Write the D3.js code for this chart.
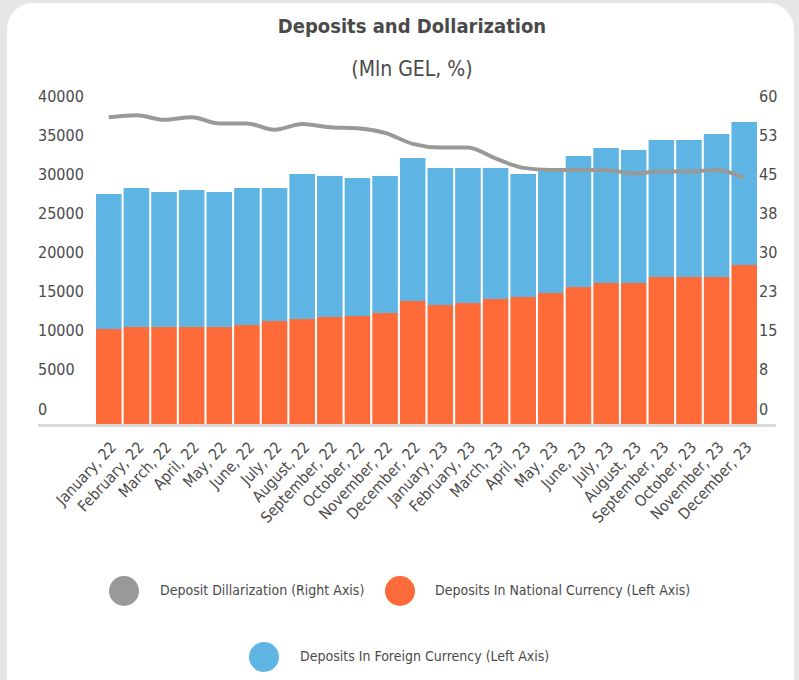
<!DOCTYPE html>
<html><head><meta charset="utf-8">
<script src="https://cdn.jsdelivr.net/npm/d3@7"></script>
<style>
html,body{margin:0;padding:0;background:#e6e6e6;}
svg{display:block;font-family:"DejaVu Sans Condensed","DejaVu Sans",sans-serif;font-stretch:condensed;}
</style></head>
<body>
<svg id="chart" width="799" height="680"></svg>
<script>
const months = ["January, 22","February, 22","March, 22","April, 22","May, 22","June, 22","July, 22","August, 22","September, 22","October, 22","November, 22","December, 22",
  "January, 23","February, 23","March, 23","April, 23","May, 23","June, 23","July, 23","August, 23","September, 23","October, 23","November, 23","December, 23"];
const nationalCurrency = [12140,12400,12400,12400,12400,12650,13160,13420,13680,13800,14190,15720,
  15210,15460,15980,16230,16740,17510,18020,18020,18790,18790,18790,20320];
const foreignCurrency = [17250,17760,17250,17510,17250,17510,17000,18530,18020,17640,17510,18270,
  17510,17250,16740,15720,15720,16740,17250,17000,17510,17510,18270,18280];
const dollarization = [58.8,59.2,58.3,58.8,57.6,57.6,56.4,57.5,56.9,56.7,55.8,53.7,
  53.0,53.0,50.9,49.1,48.7,48.7,48.7,48.0,48.4,48.4,48.7,47.2];
const leftTicks = [0,5000,10000,15000,20000,25000,30000,35000,40000];
const rightTickValues = [0,7.5,15,22.5,30,37.5,45,52.5,60];
const rightTickLabels = ["0","8","15","23","30","38","45","53","60"];
const legendItems = [
  {name:"Deposit Dillarization (Right Axis)", color:"#999999"},
  {name:"Deposits In National Currency (Left Axis)", color:"#ff6a39"},
  {name:"Deposits In Foreign Currency (Left Axis)", color:"#5eb5e3"}
];

const svg = d3.select("#chart");
const textColor = "#4a4a4a";

svg.append("rect").attr("x",7).attr("y",3).attr("width",787).attr("height",720)
  .attr("rx",26).attr("fill","#fff");

svg.append("text").attr("x",412).attr("y",27).attr("text-anchor","middle")
  .attr("dominant-baseline","middle").attr("font-size",20).attr("font-weight","bold")
  .attr("fill",textColor).text("Deposits and Dollarization");
svg.append("text").attr("x",412).attr("y",70).attr("text-anchor","middle")
  .attr("dominant-baseline","middle").attr("font-size",21)
  .attr("fill",textColor).text("(Mln GEL, %)");

const x = d3.scaleBand().domain(months).range([96,757]).paddingInner(0.075).paddingOuter(0);
const yL = d3.scaleLinear().domain([0,40000]).range([424,111]);
const yR = d3.scaleLinear().domain([0,60]).range([424,111]);

const data = months.map((m,i)=>({m, nat:nationalCurrency[i], fx:foreignCurrency[i], dol:dollarization[i]}));

const g = svg.append("g");
g.selectAll(".nat").data(data).join("rect")
  .attr("x",d=>x(d.m)).attr("width",x.bandwidth())
  .attr("y",d=>yL(d.nat)).attr("height",d=>yL(0)-yL(d.nat)).attr("fill","#ff6a39");
g.selectAll(".fx").data(data).join("rect")
  .attr("x",d=>x(d.m)).attr("width",x.bandwidth())
  .attr("y",d=>yL(d.nat+d.fx)).attr("height",d=>yL(d.nat)-yL(d.nat+d.fx)).attr("fill","#5eb5e3");

svg.append("line").attr("x1",38).attr("x2",776).attr("y1",425.5).attr("y2",425.5)
  .attr("stroke","#d9d9d9").attr("stroke-width",3);

const line = d3.line().x(d=>x(d.m)+x.bandwidth()/2).y(d=>yR(d.dol)).curve(d3.curveMonotoneX);
svg.append("path").datum(data).attr("d",line).attr("fill","none")
  .attr("stroke","#999999").attr("stroke-width",4).attr("stroke-linejoin","round");

svg.append("g").selectAll("text").data(leftTicks).join("text")
  .attr("x",38).attr("y",d=>yL(d)-14).attr("dominant-baseline","middle")
  .attr("font-size",16).attr("fill",textColor).text(d=>d);
svg.append("g").selectAll("text").data(rightTickValues).join("text")
  .attr("x",759).attr("y",d=>yR(d)-14).attr("dominant-baseline","middle")
  .attr("font-size",16).attr("fill",textColor).text((d,i)=>rightTickLabels[i]);

svg.append("g").selectAll("text").data(months).join("text")
  .attr("transform",d=>`translate(${x(d)+x.bandwidth()/2+5},${445}) rotate(-47)`)
  .attr("text-anchor","end").attr("dominant-baseline","middle")
  .attr("font-size",15.5).attr("fill",textColor).text(d=>d);

const legPos = [{cx:124,cy:591,tx:160},{cx:400,cy:591,tx:435},{cx:264,cy:657,tx:300}];
const leg = svg.append("g");
legendItems.forEach((it,i)=>{
  const p = legPos[i];
  leg.append("circle").attr("cx",p.cx).attr("cy",p.cy).attr("r",15).attr("fill",it.color);
  leg.append("text").attr("x",p.tx).attr("y",p.cy).attr("dominant-baseline","middle")
    .attr("font-size",14).attr("fill",textColor).text(it.name);
});
</script>
</body></html>
